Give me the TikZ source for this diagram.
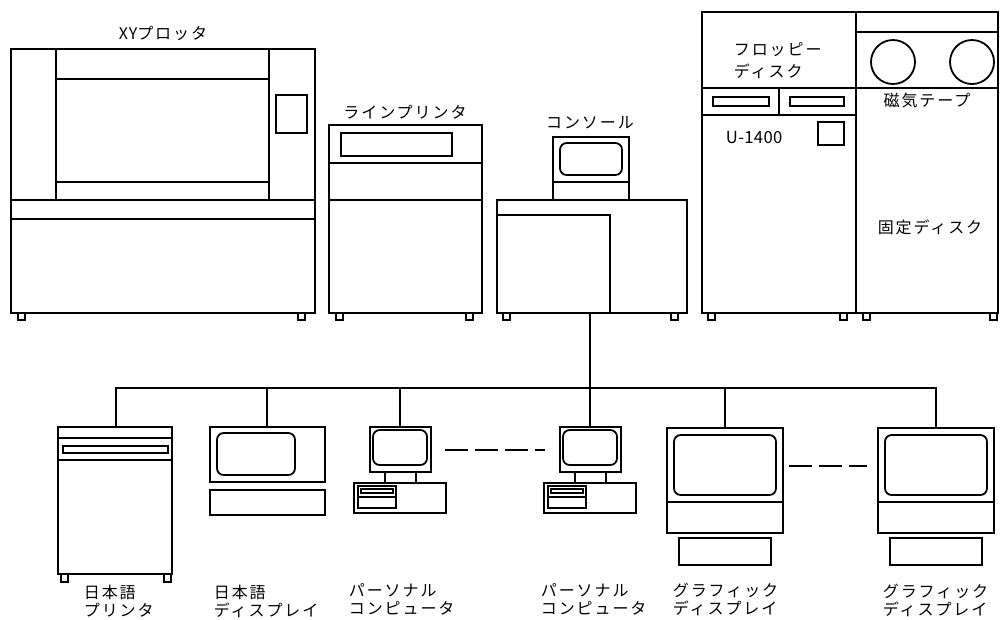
\documentclass[tikz,border=0pt]{standalone}
\usepackage{fontspec}
\setmainfont{Noto Sans CJK JP}[LetterSpace=12]
\usetikzlibrary{calc}

\begin{document}
\begin{tikzpicture}[
		x=0.75pt, y=-0.75pt,
		line width=1.35pt,
		unit/.style={draw=black},
		screen/.style={draw=black, rounded corners=5pt},
		foot/.style={draw=black, line width=1pt},
		bus/.style={black},
		more/.style={dash pattern=on 17pt off 5.5pt},
		lbl/.style={inner sep=0pt, font=\fontsize{12}{13.5}\selectfont},
		lbl2/.style={lbl, align=left, anchor=west},
	]
	\useasboundingbox (0,0) rectangle (1000,619);

	% XY plotter
	\draw[unit] (11,49) rectangle (315,313);
	\draw[unit] (56,49) -- (56,200) (269,49) -- (269,200);
	\draw[unit] (56,79) -- (269,79) (56,182) -- (269,182);
	\draw[unit] (11,200) -- (315,200) (11,219) -- (315,219);
	\draw[unit] (276,95) rectangle (307,133);
	\foreach \x in {18,298} \draw[foot] (\x,313) rectangle +(7,7);
	\node[lbl] (xyplot) at (163,33) {{\addfontfeature{LetterSpace=4}XY}プロッタ};

	% line printer
	\draw[unit] (329,125) rectangle (482,313);
	\draw[unit] (341,133) rectangle (452,156);
	\draw[unit] (329,163) -- (482,163) (329,200) -- (482,200);
	\foreach \x in {336,466} \draw[foot] (\x,313) rectangle +(7,7);
	\node[lbl] (lprn) at (405,112) {ラインプリンタ};

	% console
	\draw[unit] (553,137) rectangle (629,200);
	\draw[screen] (560,143) rectangle (622,175);
	\draw[unit] (553,182) -- (629,182);
	\draw[unit] (497,200) rectangle (687,313);
	\draw[unit] (497,215) -- (610,215) -- (610,313);
	\foreach \x in {503,671} \draw[foot] (\x,313) rectangle +(7,7);
	\node[lbl] (cons) at (590,123) {コンソール};
	\coordinate (con) at (590,313);

	% U-1400
	\draw[unit] (702,12) rectangle (856,313);
	\draw[unit] (702,88) -- (856,88) (702,115) -- (856,115) (779,88) -- (779,115);
	\draw[unit] (713,97) rectangle (769,106) (790,97) rectangle (844,106);
	\draw[unit] (818,122) rectangle (844,145);
	\foreach \x in {708,840} \draw[foot] (\x,313) rectangle +(7,7);
	\node[lbl, align=left, anchor=west] (fdd) at (733,61) {フロッピー\\[3pt]ディスク};
	\node[lbl, anchor=west, font=\fontsize{12.5}{13.5}\selectfont\addfontfeature{LetterSpace=2}] (cpu) at (725,137) {U-1400};

	% tape and fixed disk
	\draw[unit] (856,12) rectangle (998,313);
	\draw[unit] (856,32) -- (998,32) (856,88) -- (998,88);
	\draw[unit] (893,62) circle (16.5pt) (972,62) circle (16.5pt);
	\foreach \x in {863,990} \draw[foot] (\x,313) rectangle +(7,7);
	\node[lbl] (mt) at (927,100) {磁気テープ};
	\node[lbl] (hdd) at (930,227) {固定ディスク};

	% terminals on the line
	\coordinate (busL) at (116,388);
	\coordinate (busR) at (936,388);
	\coordinate (jprn) at (116,427);
	\coordinate (jdisp) at (267,427);

	\draw[unit] (58,427) rectangle (172,574);
	\draw[unit] (58,438) -- (172,438) (58,460) -- (172,460);
	\draw[unit] (63,446) rectangle (168,453);
	\foreach \x in {61,164} \draw[foot] (\x,574) rectangle +(7,8);

	\draw[unit] (210,427) rectangle (325,482);
	\draw[screen] (217,433) rectangle (295,475);
	\draw[unit] (210,490) rectangle (325,515);

	\foreach \c/\n in {400/pc1,590/pc2} {
		\coordinate (\n) at (\c,427);
		\coordinate (\n-w) at (\c-30,450);
		\coordinate (\n-e) at (\c+31,450);
		\draw[unit] (\c-30,427) rectangle (\c+31,472);
		\draw[screen] (\c-27,430) rectangle (\c+27,465);
		\draw[unit] (\c-15,472) -- (\c-15,483) (\c+16,472) -- (\c+16,483);
		\draw[unit] (\c-46,483) rectangle (\c+46,513);
		\draw[unit] (\c-42,486) rectangle (\c-4,508) (\c-42,497) -- (\c-4,497);
		\draw[unit, line width=0.8pt] (\c-39,489) rectangle (\c-7,493);
	}

	\foreach \c/\n in {725/gd1,936/gd2} {
		\coordinate (\n) at (\c,428);
		\coordinate (\n-w) at (\c-58,466);
		\coordinate (\n-e) at (\c+58,466);
		\draw[unit] (\c-58,428) rectangle (\c+58,533);
		\draw[screen] (\c-51,435) rectangle (\c+51,495);
		\draw[unit] (\c-58,502) -- (\c+58,502);
		\draw[unit] (\c-46,538) rectangle (\c+46,565);
	}

	\draw[bus] (jprn) -- (busL) -- (busR) -- (gd2);
	\foreach \n in {jdisp,pc1,gd1} \draw[bus] (\n) -- (\n |- busL);
	\draw[bus] (con) -- (pc2);
	\draw[more, shorten <=10.5pt, shorten >=11pt] (pc1-e) -- (pc2-w);
	\draw[more, shorten <=4.5pt, shorten >=8pt] (gd1-e) -- (gd2-w);

	\node[lbl2] (jprn-l) at (83,601) {日本語\\プリンタ};
	\node[lbl2] (jdisp-l) at (213,601) {日本語\\ディスプレイ};
	\node[lbl2] (pc1-l) at (348,599) {パーソナル\\コンピュータ};
	\node[lbl2] (pc2-l) at (540,599) {パーソナル\\コンピュータ};
	\node[lbl2] (gd1-l) at (672,599) {グラフィック\\ディスプレイ};
	\node[lbl2] (gd2-l) at (882,600) {グラフィック\\ディスプレイ};
\end{tikzpicture}
\end{document}
